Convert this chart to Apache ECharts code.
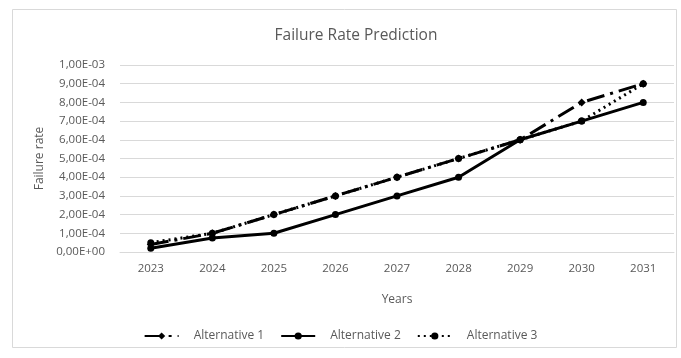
<!DOCTYPE html>
<html>
<head>
<meta charset="utf-8">
<script src="https://cdn.jsdelivr.net/npm/echarts@6/dist/echarts.min.js"></script>
<style>
  html, body { margin: 0; padding: 0; background: #fff; }
  #chart { width: 681px; height: 358px; }
</style>
</head>
<body>
<div id="chart"></div>
<script>
// Years on the horizontal axis
const years = ['2023', '2024', '2025', '2026', '2027', '2028', '2029', '2030', '2031'];

// Predicted failure rates per alternative
const alternative1 = [4e-5, 1.0e-4, 2.0e-4, 3.0e-4, 4.0e-4, 5.0e-4, 6.0e-4, 8.0e-4, 9.0e-4];
const alternative2 = [2e-5, 7.5e-5, 1.0e-4, 2.0e-4, 3.0e-4, 4.0e-4, 6.0e-4, 7.0e-4, 8.0e-4];
const alternative3 = [5e-5, 1.0e-4, 2.0e-4, 3.0e-4, 4.0e-4, 5.0e-4, 6.0e-4, 7.0e-4, 9.0e-4];

const seriesNames = ['Alternative 1', 'Alternative 2', 'Alternative 3'];

// Scientific notation with a decimal comma, e.g. 1,00E-04
function sci(v) {
  if (v === 0) return '0,00E+00';
  const parts = v.toExponential(2).split('e');
  const exp = parseInt(parts[1], 10);
  const sign = exp < 0 ? '-' : '+';
  const mag = String(Math.abs(exp)).padStart(2, '0');
  return parts[0].replace('.', ',') + 'E' + sign + mag;
}

const textColor = '#595959';
const font = 'Open Sans, Noto Sans, sans-serif';

const chart = echarts.init(document.getElementById('chart'));
chart.setOption({
  backgroundColor: '#fff',
  animation: false,
  graphic: [{
    type: 'rect',
    shape: { x: 12.5, y: 9.5, width: 664, height: 338 },
    style: { fill: 'none', stroke: '#d9d9d9', lineWidth: 1 },
    silent: true,
    z: -1
  }],
  title: {
    text: 'Failure Rate Prediction',
    left: 351,
    textAlign: 'center',
    top: 23,
    textStyle: { color: textColor, fontSize: 15.5, fontWeight: 'normal', fontFamily: font }
  },
  legend: {
    data: seriesNames,
    bottom: 11,
    left: 'center',
    itemWidth: 34,
    itemHeight: 9,
    itemGap: 16,
    textStyle: { color: textColor, fontSize: 12, fontFamily: font, padding: [0, 0, 0, 10] }
  },
  grid: { left: 120, right: 7, top: 65, bottom: 106 },
  xAxis: {
    type: 'category',
    data: years,
    boundaryGap: true,
    name: 'Years',
    nameLocation: 'middle',
    nameGap: 42,
    nameTextStyle: { color: textColor, fontSize: 12, fontFamily: font },
    axisLine: { lineStyle: { color: '#d9d9d9' } },
    axisTick: { show: false },
    axisLabel: { color: textColor, fontSize: 11.5, fontFamily: font, margin: 11 }
  },
  yAxis: {
    type: 'value',
    min: 0,
    max: 1e-3,
    interval: 1e-4,
    name: 'Failure rate',
    nameLocation: 'middle',
    nameGap: 72,
    nameTextStyle: { color: textColor, fontSize: 12, fontFamily: font },
    axisLine: { show: false },
    axisTick: { show: false },
    splitLine: { lineStyle: { color: '#d9d9d9', width: 1 } },
    axisLabel: { color: textColor, fontSize: 11.5, fontFamily: font, margin: 15, formatter: sci }
  },
  series: [
    {
      name: seriesNames[0],
      type: 'line',
      data: alternative1,
      symbol: 'diamond',
      symbolSize: 8,
      z: 3,
      itemStyle: { color: '#000' },
      lineStyle: { color: '#000', width: 3, type: [18, 6, 3, 6] }
    },
    {
      name: seriesNames[1],
      type: 'line',
      data: alternative2,
      symbol: 'circle',
      symbolSize: 7,
      z: 2,
      itemStyle: { color: '#000' },
      lineStyle: { color: '#000', width: 3, type: 'solid' }
    },
    {
      name: seriesNames[2],
      type: 'line',
      data: alternative3,
      symbol: 'circle',
      symbolSize: 7,
      z: 1,
      itemStyle: { color: '#000' },
      lineStyle: { color: '#000', width: 3, type: [2, 4] }
    }
  ]
});
</script>
</body>
</html>
